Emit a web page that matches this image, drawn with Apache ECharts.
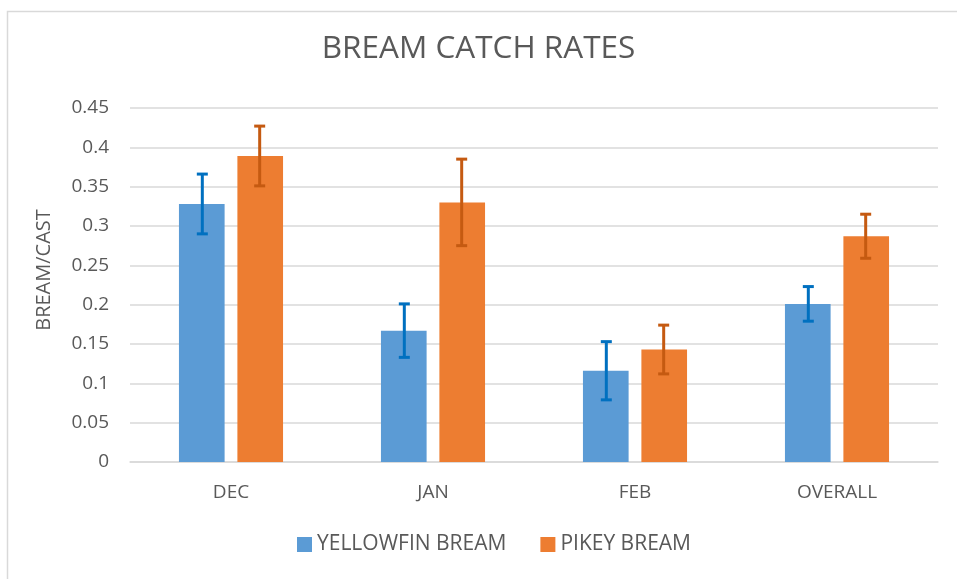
<!DOCTYPE html>
<html>
<head>
<meta charset="utf-8">
<script src="https://cdn.jsdelivr.net/npm/echarts@6/dist/echarts.min.js"></script>
<style>
  html, body { margin: 0; padding: 0; background: #fff; }
  #chart { width: 957px; height: 579px; }
</style>
</head>
<body>
<div id="chart"></div>
<script>
// categories and values
var months = ["DEC", "JAN", "FEB", "OVERALL"];
var yellowfin = [0.328, 0.167, 0.116, 0.201];
var yellowfinErr = [0.038, 0.034, 0.037, 0.022];
var pikey = [0.389, 0.330, 0.143, 0.287];
var pikeyErr = [0.038, 0.055, 0.031, 0.028];
var yTicks = [0, 0.05, 0.1, 0.15, 0.2, 0.25, 0.3, 0.35, 0.4, 0.45];

var font = "'Open Sans', 'Noto Sans', sans-serif";
var grey = "#595959";

// error bar drawn as custom series, offset to sit on the matching bar
function errSeries(name, vals, errs, color, side) {
  var data = vals.map(function (v, i) {
    return [i, v - errs[i], v + errs[i]];
  });
  return {
    name: name + " err",
    type: "custom",
    z: 10,
    silent: true,
    data: data,
    renderItem: function (params, api) {
      var i = api.value(0);
      var lo = api.coord([i, api.value(1)]);
      var hi = api.coord([i, api.value(2)]);
      var bw = api.size([1, 0])[0];
      var x = lo[0] + side * bw * 0.142;
      var cap = 5.5;
      var st = { stroke: color, lineWidth: 3 };
      return {
        type: "group",
        children: [
          { type: "line", shape: { x1: x, y1: hi[1], x2: x, y2: lo[1] }, style: st },
          { type: "line", shape: { x1: x - cap, y1: hi[1], x2: x + cap, y2: hi[1] }, style: st },
          { type: "line", shape: { x1: x - cap, y1: lo[1], x2: x + cap, y2: lo[1] }, style: st }
        ]
      };
    }
  };
}

var chart = echarts.init(document.getElementById("chart"));
var option = {
  animation: false,
  backgroundColor: "#fff",
  textStyle: { fontFamily: font },
  graphic: [{
    type: "rect",
    shape: { x: 7.5, y: 11.5, width: 980, height: 600 },
    style: { fill: "none", stroke: "#d9d9d9", lineWidth: 1.5 },
    silent: true
  }],
  title: {
    text: "BREAM CATCH RATES",
    left: "center",
    top: 28,
    textStyle: { fontFamily: font, fontSize: 31.5, fontWeight: "normal", color: grey }
  },
  legend: {
    bottom: 19,
    left: 292,
    itemWidth: 15,
    itemHeight: 15,
    itemGap: 34,
    icon: "rect",
    data: ["YELLOWFIN BREAM", "PIKEY BREAM"],
    textStyle: { fontFamily: font, fontSize: 21, color: grey }
  },
  grid: { left: 130, right: 19, top: 108, bottom: 117 },
  xAxis: {
    type: "category",
    data: months,
    axisLine: { lineStyle: { color: "#d9d9d9", width: 1.5 } },
    axisTick: { show: false },
    axisLabel: { fontFamily: font, fontSize: 19, color: grey, margin: 21 }
  },
  yAxis: {
    type: "value",
    min: 0,
    max: 0.45,
    interval: 0.05,
    name: "BREAM/CAST",
    nameLocation: "middle",
    nameGap: 76,
    nameRotate: 90,
    nameTextStyle: { fontFamily: font, fontSize: 20, color: grey, padding: [0, 0, 0, 30] },
    axisLine: { show: false },
    axisTick: { show: false },
    splitLine: { lineStyle: { color: "#d9d9d9", width: 1.5 } },
    axisLabel: {
      fontFamily: font, fontSize: 19, color: grey, margin: 21,
      formatter: function (v) {
        var t = yTicks.filter(function (k) { return Math.abs(k - v) < 1e-9; });
        return t.length ? String(t[0]) : "";
      }
    }
  },
  series: [
    {
      name: "YELLOWFIN BREAM",
      type: "bar",
      data: yellowfin,
      barWidth: "22.6%",
      barGap: "28%",
      itemStyle: { color: "#5B9BD5" }
    },
    {
      name: "PIKEY BREAM",
      type: "bar",
      data: pikey,
      barWidth: "22.6%",
      barGap: "28%",
      itemStyle: { color: "#ED7D31" }
    },
    errSeries("YELLOWFIN BREAM", yellowfin, yellowfinErr, "#0070C0", -1),
    errSeries("PIKEY BREAM", pikey, pikeyErr, "#C55A11", 1)
  ]
};
chart.setOption(option);
</script>
</body>
</html>
